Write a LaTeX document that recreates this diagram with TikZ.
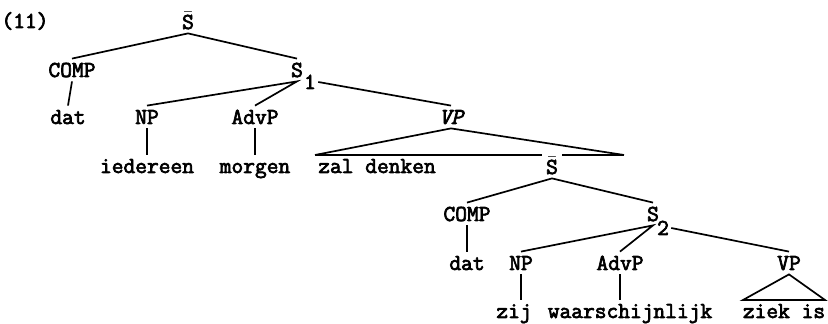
\documentclass[tikz,border=0pt]{standalone}
\usepackage{fontspec}
\newfontfamily\typewriter{Latin Modern Mono}[FakeBold=3]
\tikzstyle{category}=[font=\typewriter\fontsize{11.4}{13}\selectfont, inner sep=2pt, text height=7pt, text depth=0pt]
\tikzstyle{word}=[category]
\tikzstyle{index}=[category, inner sep=1pt]
\tikzstyle{branch}=[line width=0.85pt]
\newcommand{\sbar}{$\bar{\mbox{S}}$}

\begin{document}
\begin{tikzpicture}[x=0.5pt, y=-0.5pt]
      \useasboundingbox (0, 0) rectangle (828, 324);
      \node[category] (ex) at (25, 21) {(11)};
      % upper clause
      \node[category] (top) at (188, 22) {\sbar};
      \node[category] (comp1) at (72, 70) {COMP};
      \node[category] (s1) at (297, 70) {S};
      \node[index] (s1i) at (310, 82) {1};
      \node[word] (dat1) at (68, 117) {dat};
      \node[category] (np1) at (147, 117) {NP};
      \node[category] (advp1) at (255, 117) {AdvP};
      \node[category] (vp1) at (451, 117) {\itshape VP};
      \node[word] (iedereen) at (147, 166) {iedereen};
      \node[word] (morgen) at (255, 166) {morgen};
      \node[word] (zal) at (377, 166) {zal denken};
      \coordinate (t1l) at (315, 155);
      \coordinate (t1r) at (624, 155);
      % lower clause
      \node[category] (low) at (552, 167) {\sbar};
      \node[category] (comp2) at (467, 214) {COMP};
      \node[category] (s2) at (653, 214) {S};
      \node[index] (s2i) at (663, 228) {2};
      \node[word] (dat2) at (467, 263) {dat};
      \node[category] (np2) at (521, 263) {NP};
      \node[category] (advp2) at (620, 263) {AdvP};
      \node[category] (vp2) at (789, 263) {VP};
      \node[word] (zij) at (514, 311) {zij};
      \node[word] (waar) at (630, 311) {waarschijnlijk};
      \node[word] (ziek) at (784, 311) {ziek is};
      \coordinate (t2l) at (743, 300);
      \coordinate (t2r) at (825, 300);

      \draw[branch] (comp1.north) -- (top.south) -- (s1.north);
      \draw[branch] (comp1.south) -- (dat1.north);
      \draw[branch] (np1.north) -- (s1.south) -- (advp1.north);
      \draw[branch] (s1i.east) -- (vp1.north);
      \draw[branch] (np1.south) -- (iedereen.north);
      \draw[branch] (advp1.south) -- (morgen.north);
      \draw[branch] (t1l) -- (vp1.south) -- (t1r);
      \draw[branch] (t1l) -- (low.west |- t1l);
      \draw[branch] (low.east |- t1r) -- (t1r);
      \draw[branch] (comp2.north) -- (low.south) -- (s2.north);
      \draw[branch] (comp2.south) -- (dat2.north);
      \draw[branch] (np2.north) -- (s2.south) -- (advp2.north);
      \draw[branch] (s2i.east) -- (vp2.north);
      \draw[branch] (np2.south) -- (np2.south |- zij.north);
      \draw[branch] (advp2.south) -- (advp2.south |- waar.north);
      \draw[branch] (vp2.south) -- (t2l) -- (t2r) -- cycle;
    \end{tikzpicture}
\end{document}
